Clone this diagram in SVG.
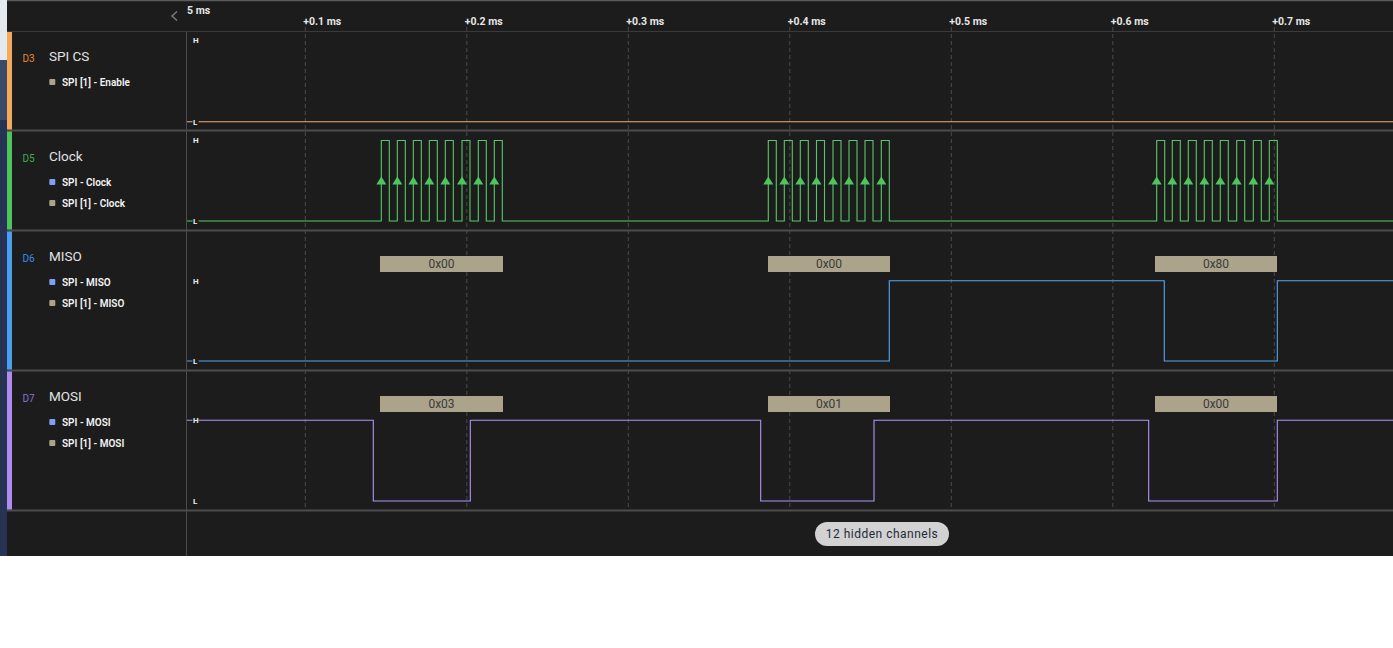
<svg xmlns="http://www.w3.org/2000/svg" width="1393" height="648" viewBox="0 0 1393 648">
<defs>
<style>
.bg{fill:#1c1c1c}
.div{stroke:#4c4c4c;stroke-width:2}
.grid{stroke:#4a4a4a;stroke-width:1;stroke-dasharray:4 3}
.tick{font-family:Roboto,"Liberation Sans",sans-serif;font-weight:700;font-size:10.5px;fill:#e6e6e6}
.dlab{font-family:Roboto,"Liberation Sans",sans-serif;font-size:10px}
.title{font-family:Roboto,"Liberation Sans",sans-serif;font-size:13.5px;fill:#e2e2e2}
.sub{font-family:Roboto,"Liberation Sans",sans-serif;font-size:10px;font-weight:600;fill:#f4f4f4}
.hl{font-family:Roboto,"Liberation Sans",sans-serif;font-size:8px;font-weight:700;fill:#ececec}
.hlbg{fill:#1c1c1c}
.sq1{fill:#aba38a}
.sq2{fill:#7f9ff5}
.wave{fill:none;stroke-width:1.1}
.box{fill:#aba38a}
.boxt{font-family:Roboto,"Liberation Sans",sans-serif;font-size:12px;fill:#3a3a3a;text-anchor:middle}
.arr{fill:#4cc75e}
</style>
</defs>

<rect x="0" y="0" width="1393" height="648" fill="#ffffff"/>
<rect class="bg" x="0" y="0" width="1393" height="556"/>
<!-- left strip -->
<rect x="0" y="0" width="7" height="60" fill="#e4e8ef"/>
<rect x="0" y="60" width="7" height="60" fill="#3c4a66"/>
<rect x="0" y="120" width="7" height="436" fill="#263352"/>
<line x1="7" y1="0.5" x2="1393" y2="0.5" stroke="#5a5a5a" stroke-width="1.5"/>

<!-- header -->
<g id="header">
<polyline points="177,11.5 172,16 177,20.5" fill="none" stroke="#7a7a7a" stroke-width="1.5"/>
<text class="tick" x="187" y="13.5">5 ms</text>
<text class="tick" x="303.3" y="25">+0.1 ms</text>
<text class="tick" x="464.8" y="25">+0.2 ms</text>
<text class="tick" x="626.3" y="25">+0.3 ms</text>
<text class="tick" x="787.8" y="25">+0.4 ms</text>
<text class="tick" x="949.3" y="25">+0.5 ms</text>
<text class="tick" x="1110.8" y="25">+0.6 ms</text>
<text class="tick" x="1272.3" y="25">+0.7 ms</text>
<line x1="7" y1="31.5" x2="1393" y2="31.5" stroke="#3a3a3a" stroke-width="1"/>
</g>

<!-- grid -->
<g id="grid">
<line class="grid" x1="305.3" y1="27" x2="305.3" y2="510"/>
<line class="grid" x1="466.8" y1="27" x2="466.8" y2="510"/>
<line class="grid" x1="628.3" y1="27" x2="628.3" y2="510"/>
<line class="grid" x1="789.8" y1="27" x2="789.8" y2="510"/>
<line class="grid" x1="951.3" y1="27" x2="951.3" y2="510"/>
<line class="grid" x1="1112.8" y1="27" x2="1112.8" y2="510"/>
<line class="grid" x1="1274.3" y1="27" x2="1274.3" y2="510"/>
</g>

<!-- dividers and panel line -->
<g id="dividers">
<line class="div" x1="7" y1="130.5" x2="1393" y2="130.5"/>
<line class="div" x1="7" y1="230.5" x2="1393" y2="230.5"/>
<line class="div" x1="7" y1="370.5" x2="1393" y2="370.5"/>
<line class="div" x1="7" y1="510.5" x2="1393" y2="510.5"/>
<line x1="186.5" y1="32" x2="186.5" y2="556" stroke="#4c4c4c" stroke-width="1"/>
</g>

<!-- D3 SPI CS -->
<g id="row-d3">
<rect x="7" y="32" width="5" height="97.5" fill="#f5a95a"/>
<text class="dlab" x="22.5" y="62" fill="#e8853a">D3</text>
<text class="title" x="49" y="61.3">SPI CS</text>
<rect class="sq1" x="49.3" y="79" width="6" height="6" rx="1"/>
<text class="sub" x="62" y="86">SPI [1] - Enable</text>
<polyline class="wave" stroke="#f0b070" points="187,121.7 1393,121.7"/>
<text class="hl" x="193" y="43">H</text>
<rect class="hlbg" x="192.5" y="118" width="6" height="7"/>
<text class="hl" x="193" y="124.5">L</text>
</g>

<!-- D5 Clock -->
<g id="row-d5">
<rect x="7" y="131.5" width="5" height="98" fill="#4cc45a"/>
<text class="dlab" x="22.5" y="162" fill="#3fae52">D5</text>
<text class="title" x="49" y="160.7">Clock</text>
<rect class="sq2" x="49.3" y="179" width="6" height="6" rx="1"/>
<text class="sub" x="62" y="186">SPI - Clock</text>
<rect class="sq1" x="49.3" y="200" width="6" height="6" rx="1"/>
<text class="sub" x="62" y="207">SPI [1] - Clock</text>
<polyline class="wave" stroke="#56c966" points="187,221 381.3,221 381.3,140.5 389.3,140.5 389.3,221 397.3,221 397.3,140.5 405.3,140.5 405.3,221 413.3,221 413.3,140.5 421.3,140.5 421.3,221 429.3,221 429.3,140.5 437.3,140.5 437.3,221 445.3,221 445.3,140.5 453.3,140.5 453.3,221 462,221 462,140.5 470,140.5 470,221 478.3,221 478.3,140.5 486.3,140.5 486.3,221 494.3,221 494.3,140.5 502.3,140.5 502.3,221 768.3,221 768.3,140.5 776.3,140.5 776.3,221 784.3,221 784.3,140.5 792.3,140.5 792.3,221 800.3,221 800.3,140.5 808.3,140.5 808.3,221 816.5,221 816.5,140.5 824.5,140.5 824.5,221 833,221 833,140.5 841,140.5 841,221 849,221 849,140.5 857,140.5 857,221 865,221 865,140.5 873,140.5 873,221 881.3,221 881.3,140.5 889.3,140.5 889.3,221 1156.7,221 1156.7,140.5 1164.7,140.5 1164.7,221 1172.3,221 1172.3,140.5 1180.3,140.5 1180.3,221 1188.3,221 1188.3,140.5 1196.3,140.5 1196.3,221 1204.3,221 1204.3,140.5 1212.3,140.5 1212.3,221 1220.3,221 1220.3,140.5 1228.3,140.5 1228.3,221 1236.7,221 1236.7,140.5 1244.7,140.5 1244.7,221 1253.3,221 1253.3,140.5 1261.3,140.5 1261.3,221 1269.3,221 1269.3,140.5 1277.3,140.5 1277.3,221 1393,221"/>
<g id="clock-edges">
<polygon class="arr" points="381.3,176.5 376.3,184.5 386.3,184.5"/>
<polygon class="arr" points="397.3,176.5 392.3,184.5 402.3,184.5"/>
<polygon class="arr" points="413.3,176.5 408.3,184.5 418.3,184.5"/>
<polygon class="arr" points="429.3,176.5 424.3,184.5 434.3,184.5"/>
<polygon class="arr" points="445.3,176.5 440.3,184.5 450.3,184.5"/>
<polygon class="arr" points="462,176.5 457,184.5 467,184.5"/>
<polygon class="arr" points="478.3,176.5 473.3,184.5 483.3,184.5"/>
<polygon class="arr" points="494.3,176.5 489.3,184.5 499.3,184.5"/>
<polygon class="arr" points="768.3,176.5 763.3,184.5 773.3,184.5"/>
<polygon class="arr" points="784.3,176.5 779.3,184.5 789.3,184.5"/>
<polygon class="arr" points="800.3,176.5 795.3,184.5 805.3,184.5"/>
<polygon class="arr" points="816.5,176.5 811.5,184.5 821.5,184.5"/>
<polygon class="arr" points="833,176.5 828,184.5 838,184.5"/>
<polygon class="arr" points="849,176.5 844,184.5 854,184.5"/>
<polygon class="arr" points="865,176.5 860,184.5 870,184.5"/>
<polygon class="arr" points="881.3,176.5 876.3,184.5 886.3,184.5"/>
<polygon class="arr" points="1156.7,176.5 1151.7,184.5 1161.7,184.5"/>
<polygon class="arr" points="1172.3,176.5 1167.3,184.5 1177.3,184.5"/>
<polygon class="arr" points="1188.3,176.5 1183.3,184.5 1193.3,184.5"/>
<polygon class="arr" points="1204.3,176.5 1199.3,184.5 1209.3,184.5"/>
<polygon class="arr" points="1220.3,176.5 1215.3,184.5 1225.3,184.5"/>
<polygon class="arr" points="1236.7,176.5 1231.7,184.5 1241.7,184.5"/>
<polygon class="arr" points="1253.3,176.5 1248.3,184.5 1258.3,184.5"/>
<polygon class="arr" points="1269.3,176.5 1264.3,184.5 1274.3,184.5"/>
</g>
<text class="hl" x="193" y="143">H</text>
<rect class="hlbg" x="192.5" y="217.5" width="6" height="7"/>
<text class="hl" x="193" y="224">L</text>
</g>

<!-- D6 MISO -->
<g id="row-d6">
<rect x="7" y="231.5" width="5" height="138" fill="#4a9ff5"/>
<text class="dlab" x="22.5" y="262" fill="#3a8ae6">D6</text>
<text class="title" x="49" y="260.7">MISO</text>
<rect class="sq2" x="49.3" y="279" width="6" height="6" rx="1"/>
<text class="sub" x="62" y="286">SPI - MISO</text>
<rect class="sq1" x="49.3" y="300" width="6" height="6" rx="1"/>
<text class="sub" x="62" y="307">SPI [1] - MISO</text>
<polyline class="wave" stroke="#52a6f2" points="187,361 889.3,361 889.3,280.7 1164.3,280.7 1164.3,361 1277.3,361 1277.3,280.7 1393,280.7"/>
<rect class="box" x="380" y="256" width="123" height="16"/>
<text class="boxt" x="441.5" y="268.3">0x00</text>
<rect class="box" x="768" y="256" width="122" height="16"/>
<text class="boxt" x="829" y="268.3">0x00</text>
<rect class="box" x="1155" y="256" width="122" height="16"/>
<text class="boxt" x="1216" y="268.3">0x80</text>
<text class="hl" x="193" y="283.5">H</text>
<rect class="hlbg" x="192.5" y="357.5" width="6" height="7"/>
<text class="hl" x="193" y="364">L</text>
</g>

<!-- D7 MOSI -->
<g id="row-d7">
<rect x="7" y="371.5" width="5" height="138" fill="#b08cf2"/>
<text class="dlab" x="22.5" y="402" fill="#8a70d2">D7</text>
<text class="title" x="49" y="400.7">MOSI</text>
<rect class="sq2" x="49.3" y="419" width="6" height="6" rx="1"/>
<text class="sub" x="62" y="426">SPI - MOSI</text>
<rect class="sq1" x="49.3" y="440" width="6" height="6" rx="1"/>
<text class="sub" x="62" y="447">SPI [1] - MOSI</text>
<polyline class="wave" stroke="#b094f5" points="187,420.3 373.3,420.3 373.3,501 470.3,501 470.3,420.3 760.7,420.3 760.7,501 874,501 874,420.3 1148.7,420.3 1148.7,501 1277.3,501 1277.3,420.3 1393,420.3"/>
<rect class="box" x="380" y="396" width="123" height="16"/>
<text class="boxt" x="441.5" y="408.3">0x03</text>
<rect class="box" x="768" y="396" width="122" height="16"/>
<text class="boxt" x="829" y="408.3">0x01</text>
<rect class="box" x="1155" y="396" width="122" height="16"/>
<text class="boxt" x="1216" y="408.3">0x00</text>
<rect class="hlbg" x="192.5" y="416.8" width="6" height="7"/>
<text class="hl" x="193" y="423">H</text>
<text class="hl" x="193" y="504">L</text>
</g>

<!-- hidden channels -->
<g id="hidden-channels">
<rect x="815" y="522" width="134" height="24" rx="12" fill="#d2d2d2"/>
<text x="882" y="538.3" text-anchor="middle" font-family="Roboto,'Liberation Sans',sans-serif" font-size="12px" letter-spacing="0.5" fill="#1f2a38">12 hidden channels</text>
</g>
</svg>
